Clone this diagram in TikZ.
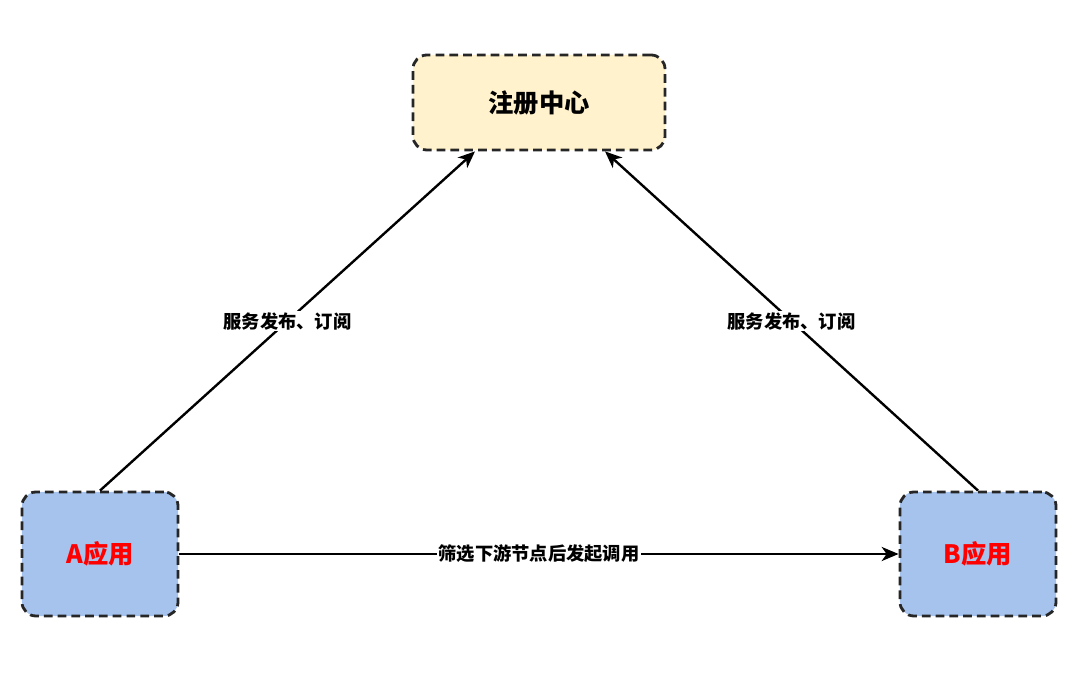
\documentclass[tikz,border=0pt]{standalone}
\usepackage{fontspec}
\setmainfont{Noto Sans CJK SC}
\usepackage{tikz}
\usetikzlibrary{arrows.meta,positioning,calc}
\usepackage{xcolor}
\definecolor{regYellow}{RGB}{255,242,204}
\definecolor{appBlue}{RGB}{166,195,237}
\definecolor{appRed}{RGB}{255,0,0}

\tikzset{
  dashbox/.style={draw=black!85, line width=2pt, dash pattern=on 6.2pt off 3.6pt,
                  rounded corners=10pt},
  regbox/.style={dashbox, fill=regYellow, minimum width=6.3cm, minimum height=2.375cm,
                 font=\fontsize{18}{21}\selectfont\bfseries},
  appbox/.style={dashbox, fill=appBlue, minimum width=3.9cm, minimum height=3.1cm,
                 text=appRed, font=\fontsize{18}{21}\selectfont\bfseries},
  callline/.style={-{Stealth[length=12pt,width=10pt,inset=3.5pt]}, line width=1.7pt},
  calllabel/.style={fill=white, inner sep=1pt, font=\fontsize{13}{15}\selectfont\bfseries}
}

\begin{document}
\begin{tikzpicture}[x=0.025cm, y=-0.025cm]
        \useasboundingbox (0,0) rectangle (1080,688);
        \node[regbox] (reg) at (539,102.5) {注册中心};
        \node[appbox] (appA) at (100,554) {A应用};
        \node[appbox] (appB) at (978,554) {B应用};
        \draw[callline] (appA.north) -- ([xshift=-1.6cm]reg.south)
          node[midway, calllabel] {服务发布、订阅};
        \draw[callline] (appB.north) -- ([xshift=1.65cm]reg.south)
          node[midway, calllabel] {服务发布、订阅};
        \draw[callline] (appA.east) -- (appB.west)
          node[midway, calllabel] {筛选下游节点后发起调用};
      \end{tikzpicture}
\end{document}
